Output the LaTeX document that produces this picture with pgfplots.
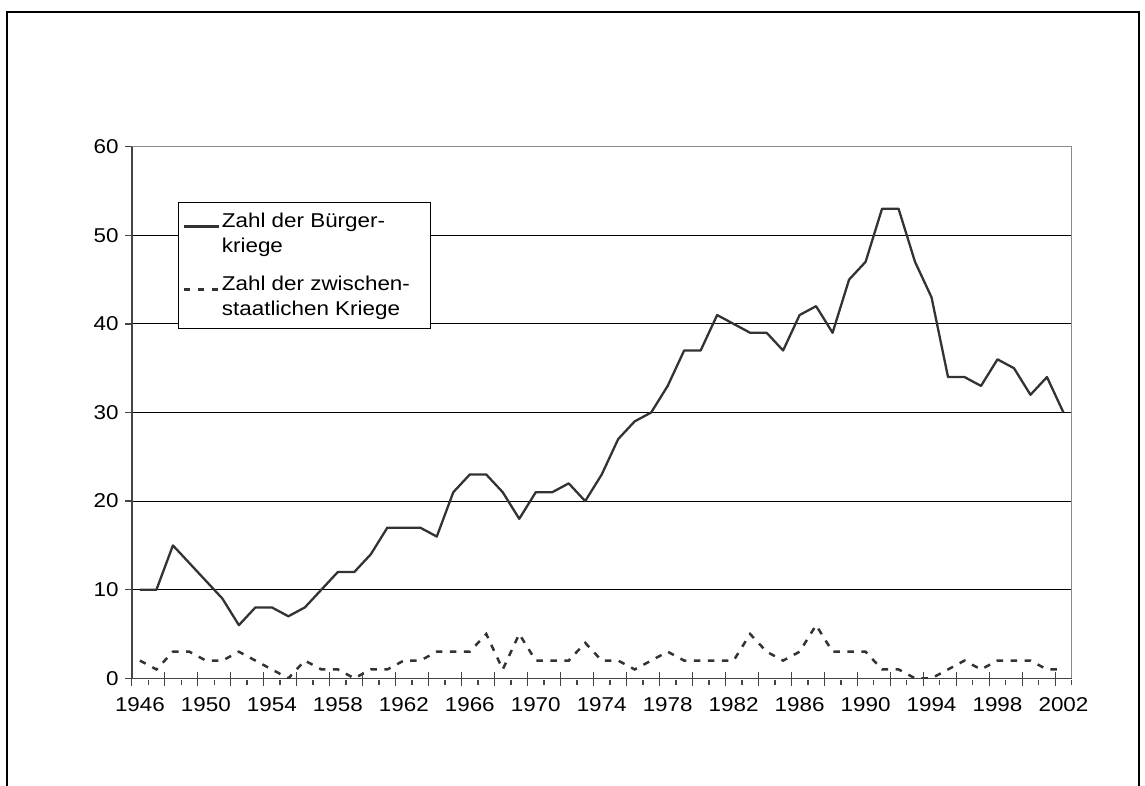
\documentclass[border=0pt]{standalone}
\usepackage{pgfplots}
\pgfplotsset{compat=1.18}
\usepackage{pgfplotstable}
\usepackage{fontspec}
\setmainfont{Liberation Sans}[FakeStretch=1.12]
\definecolor{linegray}{HTML}{333333}
\definecolor{framegray}{HTML}{8A8A8A}
\definecolor{axisgray}{HTML}{444444}
\newcommand{\chartfont}{\fontsize{20}{23}\selectfont}
\newcommand{\legfont}{\fontsize{20}{25}\selectfont}

\pgfplotstableread{
year civil inter
1946 10 2
1947 10 1
1948 15 3
1949 13 3
1950 11 2
1951 9 2
1952 6 3
1953 8 2
1954 8 1
1955 7 0
1956 8 2
1957 10 1
1958 12 1
1959 12 0
1960 14 1
1961 17 1
1962 17 2
1963 17 2
1964 16 3
1965 21 3
1966 23 3
1967 23 5
1968 21 1
1969 18 5
1970 21 2
1971 21 2
1972 22 2
1973 20 4
1974 23 2
1975 27 2
1976 29 1
1977 30 2
1978 33 3
1979 37 2
1980 37 2
1981 41 2
1982 40 2
1983 39 5
1984 39 3
1985 37 2
1986 41 3
1987 42 6
1988 39 3
1989 45 3
1990 47 3
1991 53 1
1992 53 1
1993 47 0
1994 43 0
1995 34 1
1996 34 2
1997 33 1
1998 36 2
1999 35 2
2000 32 2
2001 34 1
2002 30 1
}\datatable

\pgfplotsset{
  tickaxis/.style={
    anchor=south west, scale only axis,
    axis line style={draw=none},
    major tick length=0pt,
    tick style={draw=none},
    xticklabel={\mbox{}}, yticklabel={\mbox{}},
    major grid style={axisgray, line width=1.3pt},
  },
}

\begin{document}
\begin{tikzpicture}[x=1pt,y=1pt]
\useasboundingbox (0,0) rectangle (1145,785);
\draw[black, line width=2pt] (6.7,-3) -- (6.7,773.3) -- (1138.5,773.3) -- (1138.5,-3);
\begin{axis}[
  at={(131.7pt,106.7pt)}, anchor=south west,
  scale only axis, width=940pt, height=531.6pt,
  xmin=1945.5, xmax=2002.5, ymin=0, ymax=60,
  clip mode=individual,
  axis lines*=left,
  axis line style={-, axisgray, line width=1.6pt},
  ytick={0,10,...,60},
  ymajorgrids,
  major grid style={black, line width=0.9pt},
  tick align=outside,
  major tick length=6.7pt,
  tick style={draw=none},
  xtick={1946,1950,...,2002},
  xticklabels={1946,1950,1954,1958,1962,1966,1970,1974,1978,1982,1986,1990,1994,1998,2002},
  tick label style={font=\chartfont},
  xticklabel style={yshift=-9pt},
  yticklabel style={xshift=-3pt},
  /pgf/number format/assume math mode=true,
  legend style={at={(axis description cs:0.0493,0.8965)}, anchor=north west,
    draw=black, line width=0.8pt, fill=white,
    inner xsep=4pt, inner ysep=9pt,
    font=\legfont, cells={align=left},
    row sep=18pt},
  legend cell align=left,
  legend image code/.code={\draw[#1] (0pt,7pt) -- (35pt,7pt);},
]
\addplot[linegray, line width=2.3pt, line join=round] table[x=year, y=civil] {\datatable};
\addlegendentry{Zahl der Bürger-\\kriege}
\addplot[linegray, line width=2.5pt, dash pattern=on 6.5pt off 7.5pt] table[x=year, y=inter] {\datatable};
\addlegendentry{Zahl der zwischen-\hspace*{14pt}\\staatlichen Kriege}
\draw[framegray, line width=1.5pt] (rel axis cs:0,1) -- (rel axis cs:1,1) -- (rel axis cs:1,0);
\end{axis}
% long tick marks of the category axis (between every second category)
\begin{axis}[tickaxis,
  at={(131.7pt,99pt)}, width=940pt, height=13.7pt,
  xmin=1945.5, xmax=2002.5, ymin=0, ymax=1,
  xtick={1945.5,1947.5,...,2001.5}, ytick=\empty,
  xmajorgrids,
]
\end{axis}
% short tick marks of the category axis
\begin{axis}[tickaxis,
  at={(131.7pt,100.5pt)}, width=940pt, height=4.5pt,
  xmin=1945.5, xmax=2002.5, ymin=0, ymax=1,
  xtick={1946.5,1948.5,...,2002.5}, ytick=\empty,
  xmajorgrids,
]
\end{axis}
% tick marks of the value axis
\begin{axis}[tickaxis,
  at={(125pt,106.7pt)}, width=6.7pt, height=531.6pt,
  xmin=0, xmax=1, ymin=0, ymax=60,
  ytick={0,10,...,60}, xtick=\empty,
  ymajorgrids,
]
\end{axis}
\end{tikzpicture}
\end{document}
